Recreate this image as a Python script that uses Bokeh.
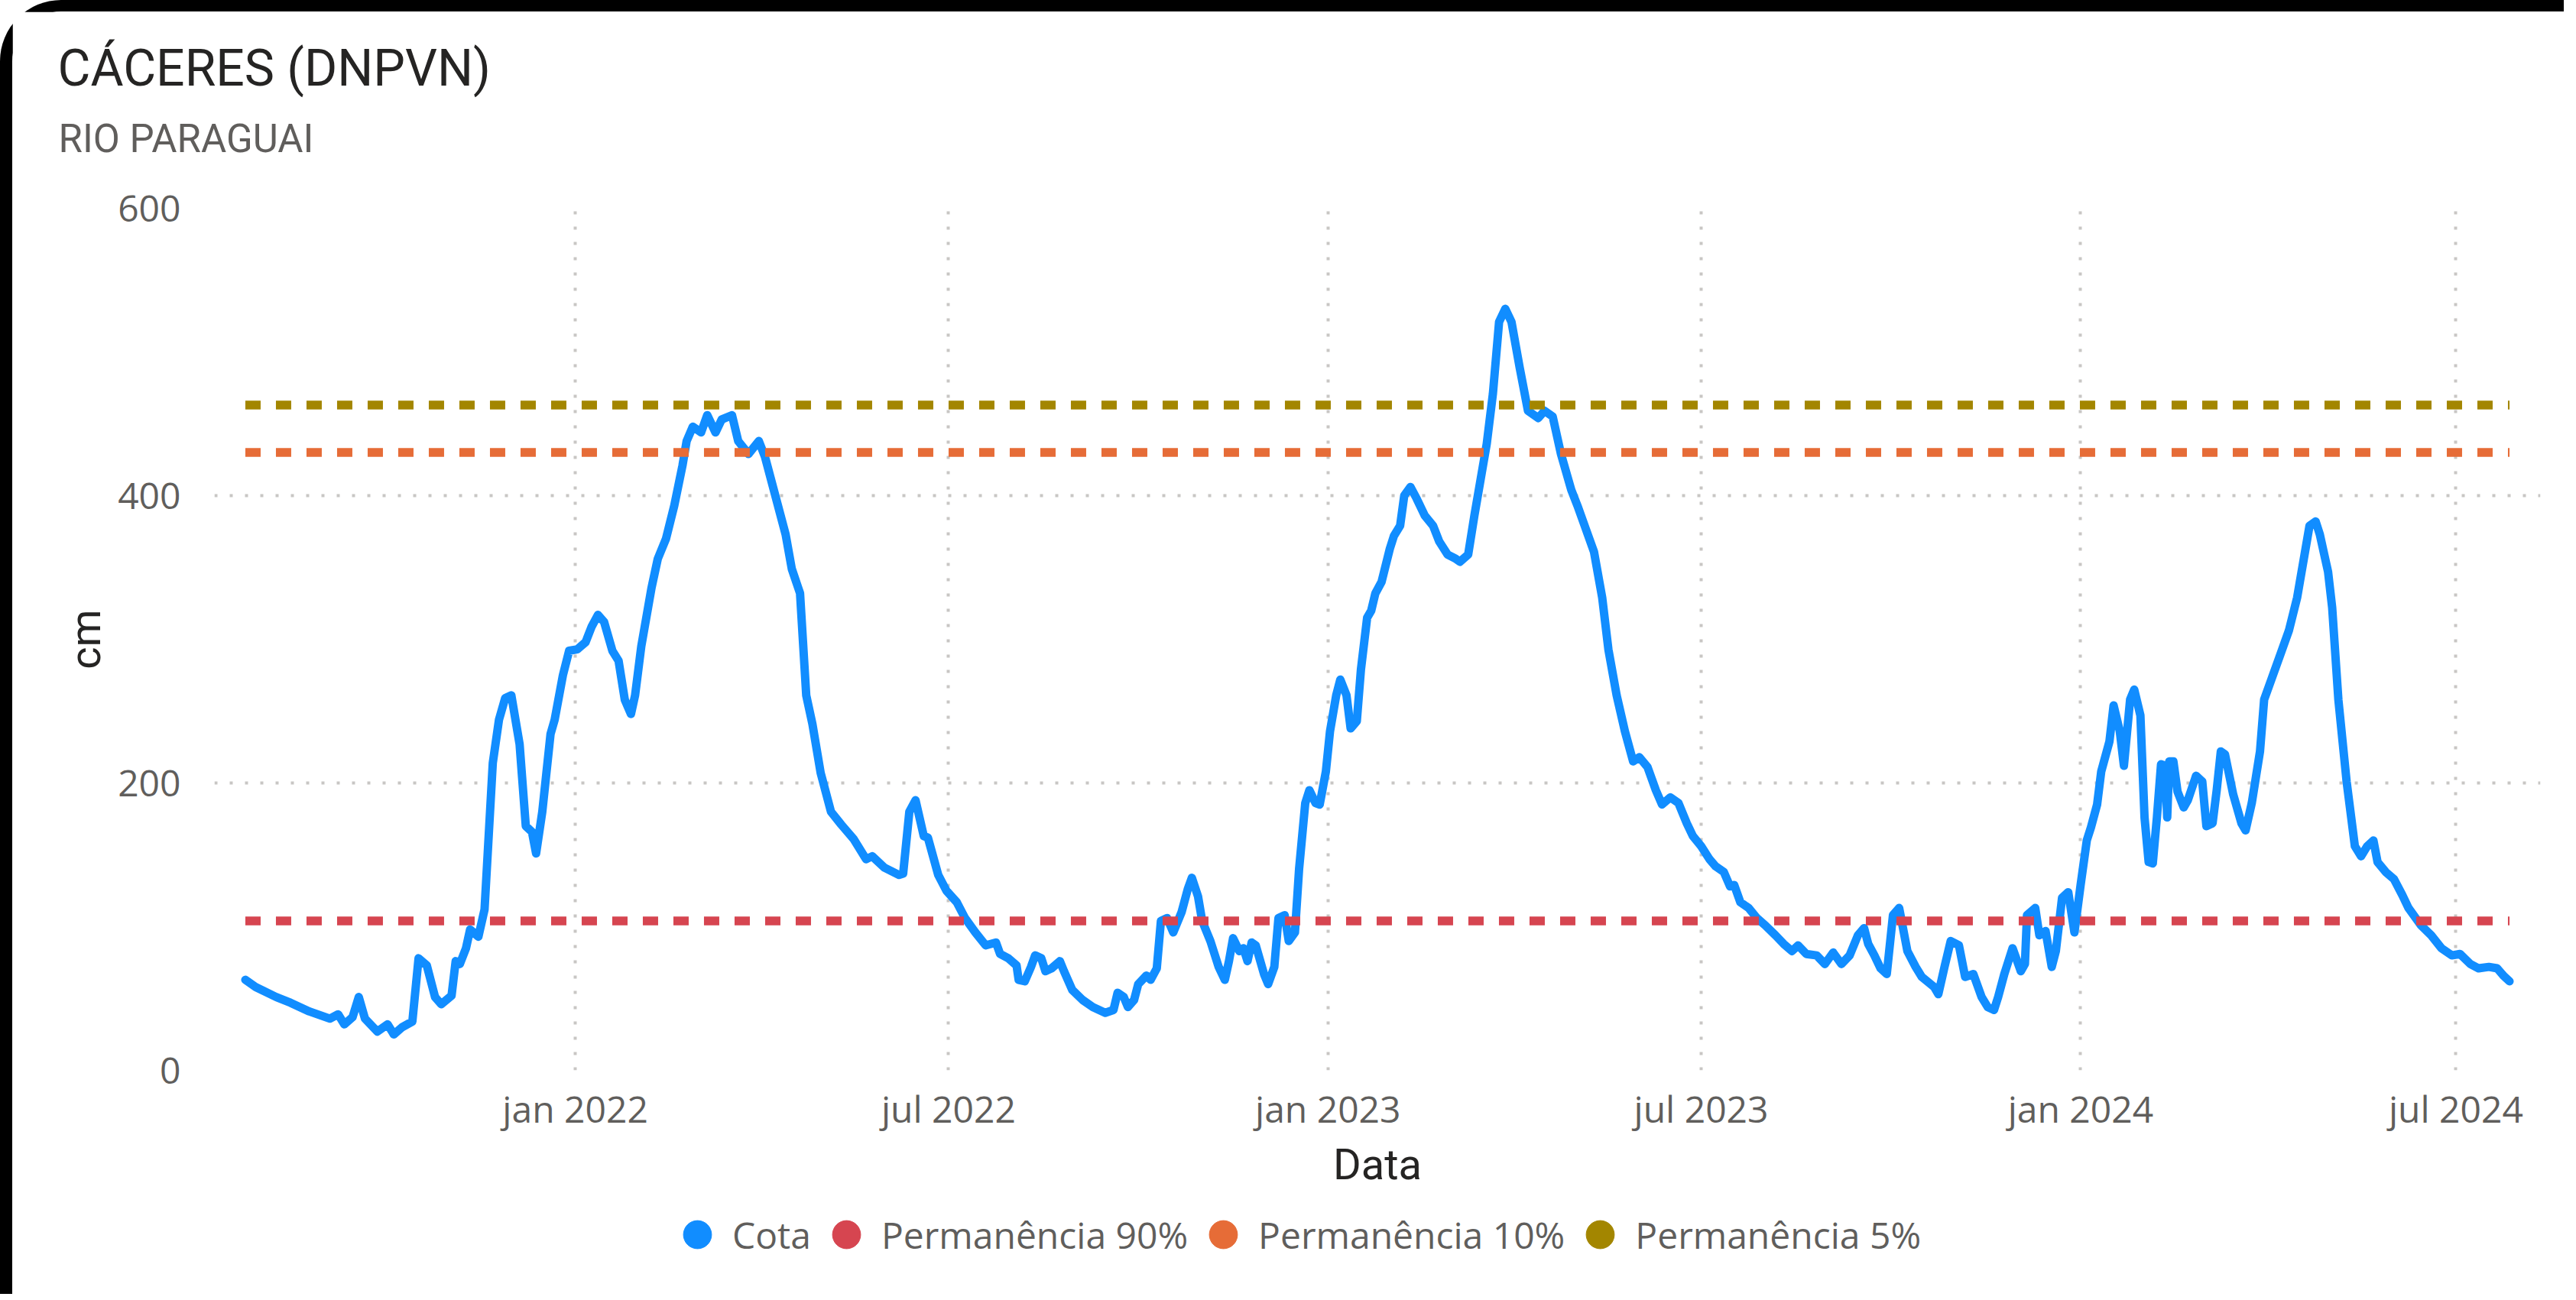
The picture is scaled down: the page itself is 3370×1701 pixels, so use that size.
import pandas as pd
from bokeh.plotting import figure
from bokeh.layouts import column
from bokeh.models import (Range1d, FixedTicker, Title, Legend, LegendItem,
                          CustomJSTickFormatter)
from bokeh.embed import file_html
from bokeh.resources import INLINE

# ---------------- data ----------------
title_text = "CÁCERES (DNPVN)"
subtitle_text = "RIO PARAGUAI"
x_label = "Data"
y_label = "cm"

dates = [
    "2021-07-25", "2021-07-30", "2021-08-09", "2021-08-16", "2021-08-25", "2021-09-04",
    "2021-09-08", "2021-09-11", "2021-09-15", "2021-09-18", "2021-09-21", "2021-09-27",
    "2021-10-02", "2021-10-05", "2021-10-09", "2021-10-14", "2021-10-17", "2021-10-21",
    "2021-10-25", "2021-10-28", "2021-11-02", "2021-11-04", "2021-11-06", "2021-11-09",
    "2021-11-11", "2021-11-15", "2021-11-18", "2021-11-22", "2021-11-25", "2021-11-28",
    "2021-12-01", "2021-12-05", "2021-12-08", "2021-12-11", "2021-12-13", "2021-12-16",
    "2021-12-20", "2021-12-22", "2021-12-26", "2021-12-29",
    "2022-01-02", "2022-01-06", "2022-01-09", "2022-01-12", "2022-01-15", "2022-01-19",
    "2022-01-22", "2022-01-25", "2022-01-28", "2022-01-30", "2022-02-02", "2022-02-07",
    "2022-02-10", "2022-02-14", "2022-02-18", "2022-02-22", "2022-02-24", "2022-02-27",
    "2022-03-03", "2022-03-06", "2022-03-10", "2022-03-13", "2022-03-18", "2022-03-21",
    "2022-03-26", "2022-03-31", "2022-04-03", "2022-04-08", "2022-04-13", "2022-04-16",
    "2022-04-20", "2022-04-23", "2022-04-26", "2022-04-30", "2022-05-05", "2022-05-10",
    "2022-05-16", "2022-05-22", "2022-05-25", "2022-05-31", "2022-06-07", "2022-06-09",
    "2022-06-12", "2022-06-15", "2022-06-19", "2022-06-21", "2022-06-26", "2022-06-30",
    "2022-07-05", "2022-07-09", "2022-07-14", "2022-07-19", "2022-07-24", "2022-07-26",
    "2022-07-30", "2022-08-03", "2022-08-04", "2022-08-07", "2022-08-10", "2022-08-12",
    "2022-08-15", "2022-08-17", "2022-08-20", "2022-08-24", "2022-08-26", "2022-08-30",
    "2022-09-04", "2022-09-09", "2022-09-15", "2022-09-19", "2022-09-21", "2022-09-24",
    "2022-09-26", "2022-09-29", "2022-10-01", "2022-10-05", "2022-10-07", "2022-10-10",
    "2022-10-12", "2022-10-15", "2022-10-18", "2022-10-22", "2022-10-25", "2022-10-27",
    "2022-10-30", "2022-11-01", "2022-11-05", "2022-11-09", "2022-11-12", "2022-11-14",
    "2022-11-16", "2022-11-19", "2022-11-21", "2022-11-23", "2022-11-25", "2022-11-27",
    "2022-12-01", "2022-12-03", "2022-12-06", "2022-12-08", "2022-12-11", "2022-12-13",
    "2022-12-16", "2022-12-18", "2022-12-21", "2022-12-23", "2022-12-26", "2022-12-28",
    "2022-12-31",
    "2023-01-02", "2023-01-05", "2023-01-07", "2023-01-10", "2023-01-12", "2023-01-15",
    "2023-01-17", "2023-01-20", "2023-01-22", "2023-01-24", "2023-01-27", "2023-01-31",
    "2023-02-02", "2023-02-05", "2023-02-07", "2023-02-10", "2023-02-13", "2023-02-17",
    "2023-02-21", "2023-02-24", "2023-02-28", "2023-03-04", "2023-03-06", "2023-03-10",
    "2023-03-13", "2023-03-16", "2023-03-19", "2023-03-22", "2023-03-25", "2023-03-28",
    "2023-03-31", "2023-04-04", "2023-04-08", "2023-04-13", "2023-04-16", "2023-04-20",
    "2023-04-24", "2023-04-29", "2023-05-02", "2023-05-06", "2023-05-10", "2023-05-14",
    "2023-05-17", "2023-05-21", "2023-05-25", "2023-05-29", "2023-06-01", "2023-06-05",
    "2023-06-09", "2023-06-12", "2023-06-16", "2023-06-20", "2023-06-24", "2023-06-27",
    "2023-07-01", "2023-07-05", "2023-07-08", "2023-07-12", "2023-07-15", "2023-07-17",
    "2023-07-20", "2023-07-24", "2023-07-28", "2023-08-01", "2023-08-06", "2023-08-10",
    "2023-08-14", "2023-08-17", "2023-08-21", "2023-08-26", "2023-08-30", "2023-09-03",
    "2023-09-07", "2023-09-11", "2023-09-15", "2023-09-18", "2023-09-20", "2023-09-23",
    "2023-09-26", "2023-09-29", "2023-10-02", "2023-10-05", "2023-10-09", "2023-10-13",
    "2023-10-16", "2023-10-22", "2023-10-24", "2023-10-27", "2023-10-30", "2023-11-03",
    "2023-11-06", "2023-11-10", "2023-11-14", "2023-11-17", "2023-11-20", "2023-11-22",
    "2023-11-25", "2023-11-29", "2023-12-03", "2023-12-05", "2023-12-06", "2023-12-10",
    "2023-12-12", "2023-12-15", "2023-12-18", "2023-12-20", "2023-12-23", "2023-12-26",
    "2023-12-29",
    "2024-01-01", "2024-01-04", "2024-01-06", "2024-01-09", "2024-01-11", "2024-01-15",
    "2024-01-17", "2024-01-20", "2024-01-22", "2024-01-25", "2024-01-27", "2024-01-30",
    "2024-02-01", "2024-02-03", "2024-02-05", "2024-02-07", "2024-02-09", "2024-02-11",
    "2024-02-12", "2024-02-13", "2024-02-15", "2024-02-17", "2024-02-20", "2024-02-22",
    "2024-02-26", "2024-02-29", "2024-03-02", "2024-03-05", "2024-03-07", "2024-03-09",
    "2024-03-11", "2024-03-15", "2024-03-19", "2024-03-21", "2024-03-24", "2024-03-28",
    "2024-03-30", "2024-04-03", "2024-04-07", "2024-04-11", "2024-04-15", "2024-04-18",
    "2024-04-21", "2024-04-24", "2024-04-26", "2024-04-30", "2024-05-02", "2024-05-05",
    "2024-05-09", "2024-05-13", "2024-05-16", "2024-05-19", "2024-05-22", "2024-05-24",
    "2024-05-28", "2024-06-01", "2024-06-05", "2024-06-08", "2024-06-14", "2024-06-19",
    "2024-06-24", "2024-06-29", "2024-07-03", "2024-07-08", "2024-07-12", "2024-07-17",
    "2024-07-21", "2024-07-24", "2024-07-27",
]

cota = [
    63, 58, 51, 47, 41, 36,
    39, 32, 37, 51, 36, 27,
    32, 25, 30, 34, 78, 73,
    51, 46, 52, 76, 74, 85,
    98, 93, 112, 214, 244, 259,
    261, 227, 170, 166, 151, 180,
    234, 244, 275, 292,
    293, 298, 309, 317, 312, 292,
    285, 258, 248, 261, 295, 336,
    356, 370, 393, 421, 438, 448,
    444, 456, 444, 453, 456, 438,
    429, 438, 427, 400, 373, 349,
    332, 261, 241, 207, 180, 171,
    161, 147, 149, 141, 136, 137,
    180, 188, 163, 162, 136, 125,
    117, 106, 96, 87, 89, 81,
    78, 73, 63, 62, 72, 80,
    78, 69, 71, 76, 69, 56,
    49, 44, 40, 42, 54, 51,
    44, 49, 60, 66, 63, 71,
    104, 106, 96, 110, 126, 134,
    121, 104, 90, 72, 63, 76,
    92, 83, 85, 76, 89, 87,
    67, 60, 72, 106, 108, 90,
    96, 140, 186, 195, 186, 185,
    208,
    236, 261, 272, 261, 238, 243,
    279, 315, 320, 332, 340, 363,
    372, 379, 400, 406, 398, 386,
    379, 368, 359, 356, 354, 359,
    386, 411, 436, 471, 521, 530,
    521, 489, 459, 454, 459, 455,
    429, 404, 393, 377, 361, 329,
    293, 261, 236, 215, 218, 211,
    195, 185, 190, 186, 172, 163,
    156, 147, 142, 138, 128, 129,
    117, 113, 106, 101, 94, 88,
    83, 87, 81, 80, 74, 82,
    74, 80, 94, 99, 88, 80,
    71, 67, 108, 113, 83, 72,
    65, 58, 53, 72, 90, 87,
    65, 67, 51, 44, 42, 51,
    67, 85, 69, 74, 108, 113,
    94, 97, 72, 83, 120, 124,
    96,
    129, 160, 169, 185, 208, 229,
    254, 236, 212, 258, 265, 247,
    176, 145, 144, 176, 213, 212,
    176, 215, 215, 194, 183, 188,
    205, 201, 170, 172, 195, 222,
    220, 192, 172, 167, 186, 222,
    258, 274, 290, 306, 329, 354,
    379, 382, 373, 347, 322, 258,
    201, 156, 149, 156, 160, 145,
    138, 133, 122, 113, 101, 94,
    85, 80, 81, 74, 71, 72,
    71, 66, 62,
]

perm_dates = ["2021-07-25", "2024-07-27"]
perm_90 = 104
perm_10 = 430
perm_5 = 463

series_names = ["Cota", "Permanência 90%", "Permanência 10%", "Permanência 5%"]
series_colors = ["#118DFF", "#D64550", "#E66C37", "#A38600"]

x_ticks = ["2022-01-01", "2022-07-01", "2023-01-01", "2023-07-01", "2024-01-01", "2024-07-01"]
x_tick_labels = ["jan 2022", "jul 2022", "jan 2023", "jul 2023", "jan 2024", "jul 2024"]
y_ticks = [0, 200, 400, 600]
x_start, x_end = "2021-07-10", "2024-08-11"

# ---------------- main figure ----------------
W = 3338
H1 = 1555
H2 = 123
p = figure(width=W, height=H1, x_axis_type="datetime", output_backend="svg",
           toolbar_location=None, tools="",
           x_range=Range1d(pd.Timestamp(x_start), pd.Timestamp(x_end)),
           y_range=Range1d(0, 600),
           min_border_left=264, min_border_right=31,
           min_border_top=257, min_border_bottom=170)
p.title.visible = False
p.outline_line_color = None
p.background_fill_color = "white"
p.border_fill_color = "white"

tick_font = "Open Sans"
grid_color = "#C8C6C4"

x = pd.to_datetime(dates)
px_dates = pd.to_datetime(perm_dates)

p.line(x, cota, line_width=11, color=series_colors[0], line_join="round", line_cap="round")
for val, col in zip([perm_90, perm_10, perm_5], series_colors[1:]):
    p.line(px_dates, [val, val], line_width=11.5, color=col, line_dash="20 20")

tick_ms = [float(pd.Timestamp(t).value // 10**6) for t in x_ticks]
p.xaxis.ticker = FixedTicker(ticks=tick_ms)
p.xaxis.formatter = CustomJSTickFormatter(
    args=dict(tick_vals=tick_ms, tick_names=x_tick_labels), code="""
for (let i = 0; i < tick_vals.length; i++) {
  if (Math.abs(tick_vals[i] - tick) < 1e6) { return tick_names[i]; }
}
return "";
""")
p.yaxis.ticker = FixedTicker(ticks=y_ticks)

for ax in [p.xaxis[0], p.yaxis[0]]:
    ax.axis_line_color = None
    ax.major_tick_line_color = None
    ax.minor_tick_line_color = None
    ax.major_tick_out = 0
    ax.major_tick_in = 0
    ax.major_label_text_font = tick_font
    ax.major_label_text_font_size = "48px"
    ax.major_label_text_color = "#605E5C"
    ax.axis_label_text_font = "Roboto"
    ax.axis_label_text_font_size = "56px"
    ax.axis_label_text_font_style = "normal"
    ax.axis_label_text_color = "#252423"

p.xaxis.axis_label = x_label
p.yaxis.axis_label = y_label
p.yaxis.major_label_standoff = 44
p.yaxis.axis_label_standoff = 6
p.xaxis.major_label_standoff = 17
p.xaxis.axis_label_standoff = 5
p.yaxis.major_label_orientation = "horizontal"

for g in [p.xgrid[0], p.ygrid[0]]:
    g.grid_line_color = grid_color
    g.grid_line_width = 4
    g.grid_line_dash = "4 16"
p.xgrid.ticker = p.xaxis.ticker
p.ygrid.ticker = p.yaxis.ticker

p.add_layout(Title(text=subtitle_text, align="left", offset=-204, standoff=124,
                   text_font="Roboto", text_font_size="51px", text_font_style="normal",
                   text_color="#605E5C"), "above")
p.add_layout(Title(text=title_text, align="left", offset=-205, standoff=-80,
                   text_font="Roboto", text_font_size="66px", text_font_style="normal",
                   text_color="#252423"), "above")

# ---------------- legend strip ----------------
q = figure(width=W, height=H2, output_backend="svg", toolbar_location=None, tools="",
           x_range=Range1d(0, 1), y_range=Range1d(0, 1),
           x_axis_location=None, y_axis_location=None,
           min_border_left=0, min_border_right=0, min_border_top=0, min_border_bottom=0)
q.title.visible = False
q.outline_line_color = None
q.grid.visible = False
q.border_fill_color = "white"
q.background_fill_color = "white"

items = []
for name, col in zip(series_names, series_colors):
    r = q.scatter(x=[float("nan")], y=[float("nan")], marker="circle", size=10,
                  fill_color=col, line_color=col)
    items.append(LegendItem(label=name, renderers=[r]))
legend = Legend(items=items, location=(586, 32), orientation="horizontal",
                glyph_width=92, glyph_height=92, label_standoff=0, spacing=0,
                padding=0, margin=0, border_line_color=None, background_fill_alpha=0,
                label_text_font=tick_font, label_text_font_size="48px",
                label_text_color="#605E5C")
q.add_layout(legend)

layout = column(p, q, spacing=0)
layout.styles = {
    "border-left": "16px solid #000000", "border-top": "15px solid #000000",
    "border-top-left-radius": "80px", "background-color": "white",
}

open("out.html", "w").write(file_html(layout, INLINE))
